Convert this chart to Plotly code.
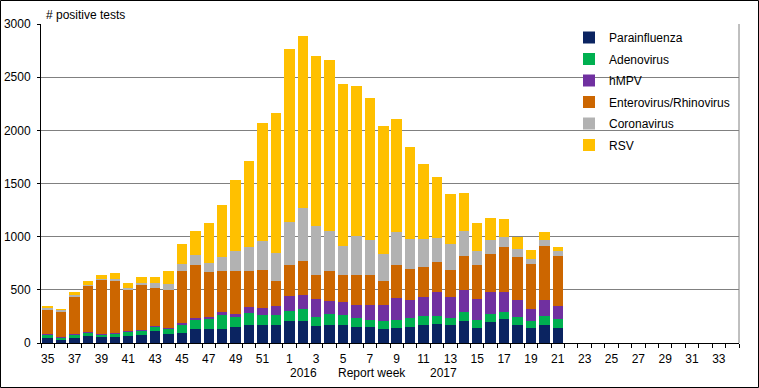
import plotly.graph_objects as go

weeks = [str(w) for w in list(range(35, 53)) + list(range(1, 35))]
data_weeks = [str(w) for w in list(range(35, 53)) + list(range(1, 22))]
tick_labels = [w if i % 2 == 0 else "" for i, w in enumerate(weeks)]

# cumulative tops, converted to per-series values below
top_para = [50, 25, 50, 63, 53, 53, 63, 72, 110, 89, 95, 136, 136, 136, 149, 174, 165, 171,
            210, 210, 156, 166, 166, 147, 147, 133, 144, 153, 172, 181, 172, 209, 145, 195, 230, 173, 145, 173, 145]
top_adeno = [79, 44, 75, 94, 79, 88, 101, 113, 148, 133, 168, 212, 222, 263, 244, 279, 263, 260,
             304, 316, 241, 269, 260, 232, 219, 210, 219, 238, 256, 256, 238, 294, 220, 277, 296, 248, 211, 258, 230]
top_hmpv = [88, 53, 85, 104, 88, 94, 110, 123, 157, 142, 184, 231, 244, 291, 272, 339, 332, 346,
            438, 454, 416, 398, 388, 360, 360, 360, 425, 406, 434, 475, 434, 494, 417, 478, 478, 409, 324, 409, 352]
top_entero = [315, 296, 437, 532, 588, 579, 503, 541, 513, 500, 677, 734, 671, 677, 677, 677, 690, 579,
              729, 767, 642, 673, 635, 635, 635, 586, 734, 697, 716, 762, 688, 819, 737, 833, 899, 805, 739, 909, 815]
top_corona = [333, 311, 447, 550, 598, 598, 513, 560, 560, 554, 741, 823, 753, 813, 861, 899, 962, 851,
              1142, 1274, 1096, 1049, 914, 1008, 964, 839, 1041, 978, 978, 988, 931, 1053, 864, 966, 994, 881, 786, 966, 862]
top_rsv = [349, 321, 475, 579, 635, 654, 569, 623, 623, 677, 934, 1051, 1133, 1294, 1532, 1710, 2070, 2165,
           2764, 2889, 2698, 2661, 2435, 2416, 2304, 2040, 2105, 1842, 1683, 1560, 1401, 1410, 1132, 1173, 1164, 994, 871, 1041, 899]

parainfluenza = top_para
adenovirus = [b - a for a, b in zip(top_para, top_adeno)]
hmpv = [b - a for a, b in zip(top_adeno, top_hmpv)]
entero = [b - a for a, b in zip(top_hmpv, top_entero)]
corona = [b - a for a, b in zip(top_entero, top_corona)]
rsv = [b - a for a, b in zip(top_corona, top_rsv)]

series = [
    ("Parainfluenza", parainfluenza, "#0b2461"),
    ("Adenovirus", adenovirus, "#00b050"),
    ("hMPV", hmpv, "#7030a0"),
    ("Enterovirus/Rhinovirus", entero, "#cc6600"),
    ("Coronavirus", corona, "#b2b2b2"),
    ("RSV", rsv, "#ffc000"),
]

FONT = "Liberation Sans, Arial, sans-serif"

fig = go.Figure()
for name, vals, col in series:
    fig.add_trace(go.Bar(x=data_weeks, y=vals, name=name, marker=dict(color=col, line=dict(width=0)),
                         legendgroup=name, hoverinfo="skip"))

W, H = 759, 388
L, R, T, B = 41, 20, 24, 45
pw, ph = W - L - R, H - T - B


def px(xp):
    return (xp - L) / pw


def py(yp):
    return (H - B - yp) / ph


fig.update_layout(
    width=W, height=H,
    margin=dict(l=L, r=R, t=T, b=B, autoexpand=False),
    barmode="stack", bargap=0.22,
    plot_bgcolor="white", paper_bgcolor="white",
    font=dict(family=FONT, size=12, color="black"),
    showlegend=True,
    legend=dict(x=px(569), y=py(23), xanchor="left", yanchor="top", traceorder="grouped",
                tracegroupgap=2.5, bgcolor="rgba(0,0,0,0)", font=dict(size=12, family=FONT)),
    xaxis=dict(type="category", categoryorder="array", categoryarray=weeks,
               tickmode="array", tickvals=weeks, ticktext=tick_labels, tickson="boundaries",
               range=[-0.5, len(weeks) - 0.5], showgrid=False, showline=True, linecolor="black",
               linewidth=1, ticks="outside", ticklen=4, tickcolor="black", tickangle=0,
               ticklabelstandoff=5, automargin=False,
               tickfont=dict(size=12, family=FONT)),
    yaxis=dict(range=[0, 3000], dtick=500, showgrid=True, gridcolor="#808080", gridwidth=1,
               showline=True, linecolor="black", linewidth=1, ticks="outside", ticklen=3,
               tickcolor="black", zeroline=False, ticklabelstandoff=4, automargin=False,
               tickfont=dict(size=12, family=FONT)),
    shapes=[
        dict(type="rect", xref="paper", yref="paper", x0=px(595), x1=px(736), y0=py(162), y1=py(27),
             fillcolor="white", line=dict(width=0), layer="between"),
        dict(type="line", xref="paper", yref="paper", x0=1, x1=1, y0=0, y1=1,
             line=dict(color="#808080", width=1)),
        dict(type="rect", xref="paper", yref="paper", x0=px(0.5), x1=px(758.5), y0=py(387.5), y1=py(0.5),
             line=dict(color="black", width=1), fillcolor="rgba(0,0,0,0)"),
    ],
    annotations=[
        dict(text="# positive tests", xref="paper", yref="paper", x=px(44), y=py(15), xanchor="left",
             yanchor="middle", showarrow=False, font=dict(size=12, family=FONT)),
        dict(text="2016", xref="paper", yref="paper", x=px(303), y=py(373), xanchor="center",
             yanchor="middle", showarrow=False, font=dict(size=12, family=FONT)),
        dict(text="Report week", xref="paper", yref="paper", x=px(372), y=py(373), xanchor="center",
             yanchor="middle", showarrow=False, font=dict(size=12, family=FONT)),
        dict(text="2017", xref="paper", yref="paper", x=px(443), y=py(373), xanchor="center",
             yanchor="middle", showarrow=False, font=dict(size=12, family=FONT)),
    ],
)

fig.write_html("out.html", config={"displayModeBar": False, "staticPlot": True},
               post_script="document.body.style.margin='0px';document.body.style.overflow='hidden';")
